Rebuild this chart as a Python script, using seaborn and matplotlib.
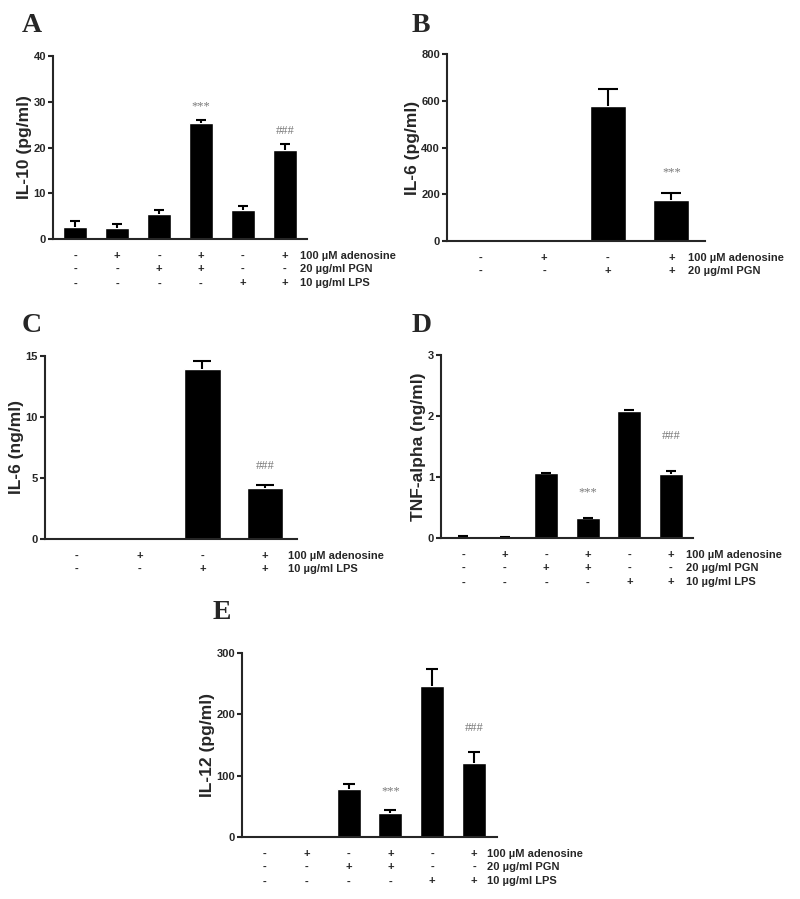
import numpy as np
import pandas as pd
import seaborn as sns
import matplotlib.pyplot as plt

# ---- data ----
treat_labels_3 = ["100 \u00b5M adenosine", "20 \u00b5g/ml PGN", "10 \u00b5g/ml LPS"]
treat_labels_pgn = ["100 \u00b5M adenosine", "20 \u00b5g/ml PGN"]
treat_labels_lps = ["100 \u00b5M adenosine", "10 \u00b5g/ml LPS"]

signs_6 = [["-", "+", "-", "+", "-", "+"],
           ["-", "-", "+", "+", "-", "-"],
           ["-", "-", "-", "-", "+", "+"]]
signs_4 = [["-", "+", "-", "+"],
           ["-", "-", "+", "+"]]

# A: IL-10 (pg/ml)
a_vals = [2.6, 2.5, 5.45, 25.3, 6.25, 19.4]
a_errs = [1.4, 0.8, 0.8, 0.7, 0.95, 1.3]
a_sig_text = ["***", "###"]
a_sig_bar = [3, 5]
a_sig_y = [29.0, 23.5]

# B: IL-6 (pg/ml)
b_vals = [0, 0, 579, 174]
b_errs = [0, 0, 73, 30]
b_sig_text = ["***"]
b_sig_bar = [3]
b_sig_y = [292]

# C: IL-6 (ng/ml)
c_vals = [0, 0, 13.96, 4.15]
c_errs = [0, 0, 0.6, 0.3]
c_sig_text = ["###"]
c_sig_bar = [3]
c_sig_y = [6.0]

# D: TNF-alpha (ng/ml)
d_vals = [0.02, 0.01, 1.06, 0.32, 2.08, 1.05]
d_errs = [0.005, 0.003, 0.01, 0.005, 0.02, 0.05]
d_sig_text = ["***", "###"]
d_sig_bar = [3, 5]
d_sig_y = [0.75, 1.67]

# E: IL-12 (pg/ml)
e_vals = [0, 0, 79, 39, 246, 121]
e_errs = [0, 0, 7, 5, 28, 18]
e_sig_text = ["***", "###"]
e_sig_bar = [3, 5]
e_sig_y = [75, 178]

sns.set_theme(style="ticks")
plt.rcParams["font.family"] = ["Liberation Sans", "DejaVu Sans"]
plt.rcParams["font.weight"] = "bold"

W, H = 800, 899
fig = plt.figure(figsize=(W / 100, H / 100), dpi=100)


def px_rect(l, t, r, b):
    return [l / W, 1 - b / H, (r - l) / W, (b - t) / H]


def draw_panel(rect, vals, errs, ymax, yticks, ylabel, signs, labels,
               sig_text, sig_bar, sig_y, xpad, width, capsize, label_x):
    ax = fig.add_axes(rect)
    n = len(vals)
    df = pd.DataFrame({"group": [f"g{i}" for i in range(n)], "value": vals})
    sns.barplot(data=df, x="group", y="value", color="black", saturation=1,
                width=width, errorbar=None, ax=ax)
    idx = [i for i in range(n) if errs[i] > 0]
    tops = [vals[i] for i in idx]
    _, caps, _ = ax.errorbar(idx, tops,
                             yerr=[[0] * len(idx), [errs[i] for i in idx]],
                             fmt="none", ecolor="black", elinewidth=1.5,
                             capsize=capsize, capthick=1.5)
    # keep only the upper caps
    for cl in caps:
        if np.allclose(cl.get_ydata(), tops):
            cl.remove()
    ax.set_xlim(-xpad, n - 1 + xpad)
    ax.set_ylim(0, ymax)
    ax.set_yticks(yticks)
    ax.set_xticks([])
    ax.set_xlabel("")
    ax.set_ylabel(ylabel, fontsize=12.5, fontweight="bold", labelpad=1)
    ax.tick_params(axis="y", length=3.5, width=1.5, pad=1.5, labelsize=8)
    for lab in ax.get_yticklabels():
        lab.set_fontweight("bold")
    sns.despine(ax=ax)
    for s in ["left", "bottom"]:
        ax.spines[s].set_linewidth(1.5)
    offsets = [11.9, 21.6, 32.0]
    for r, row in enumerate(signs):
        for i, sgn in enumerate(row):
            ax.annotate(sgn, xy=(i, 0), xycoords=("data", "axes fraction"),
                        xytext=(0, -offsets[r]), textcoords="offset points",
                        ha="center", va="center", fontsize=8, fontweight="bold",
                        annotation_clip=False)
        ax.annotate(labels[r], xy=(label_x, 0), xycoords=("data", "axes fraction"),
                    xytext=(0, -offsets[r]), textcoords="offset points",
                    ha="left", va="center", fontsize=8, fontweight="bold",
                    annotation_clip=False)
    for t, b, y in zip(sig_text, sig_bar, sig_y):
        ax.text(b, y, t, ha="center", va="center", fontsize=9, color="#7a7a7a",
                family=["Liberation Serif", "DejaVu Serif"], fontweight="normal")
    return ax


draw_panel(px_rect(53, 56, 307, 239), a_vals, a_errs, 40, [0, 10, 20, 30, 40],
           "IL-10 (pg/ml)", signs_6, treat_labels_3,
           a_sig_text, a_sig_bar, a_sig_y, 0.53, 0.58, 3.9, 5.36)
draw_panel(px_rect(447, 54, 705, 241), b_vals, b_errs, 800, [0, 200, 400, 600, 800],
           "IL-6 (pg/ml)", signs_4, treat_labels_pgn,
           b_sig_text, b_sig_bar, b_sig_y, 0.53, 0.57, 7.0, 3.27)
draw_panel(px_rect(45, 356, 297, 539), c_vals, c_errs, 15, [0, 5, 10, 15],
           "IL-6 (ng/ml)", signs_4, treat_labels_lps,
           c_sig_text, c_sig_bar, c_sig_y, 0.51, 0.58, 6.2, 3.37)
draw_panel(px_rect(441, 355, 693, 538), d_vals, d_errs, 3, [0, 1, 2, 3],
           "TNF-alpha (ng/ml)", signs_6, treat_labels_3,
           d_sig_text, d_sig_bar, d_sig_y, 0.53, 0.58, 3.9, 5.36)
draw_panel(px_rect(242, 653, 497, 837), e_vals, e_errs, 300, [0, 100, 200, 300],
           "IL-12 (pg/ml)", signs_6, treat_labels_3,
           e_sig_text, e_sig_bar, e_sig_y, 0.55, 0.57, 4.2, 5.31)

for letter, x, y in [("A", 22, 32), ("B", 412, 32), ("C", 22, 332),
                     ("D", 412, 332), ("E", 213, 619)]:
    fig.text(x / W, 1 - y / H, letter, ha="left", va="baseline", fontsize=20,
             fontweight="bold", family=["Liberation Serif", "DejaVu Serif"])

fig.savefig("out.png", dpi=100, facecolor="white")
